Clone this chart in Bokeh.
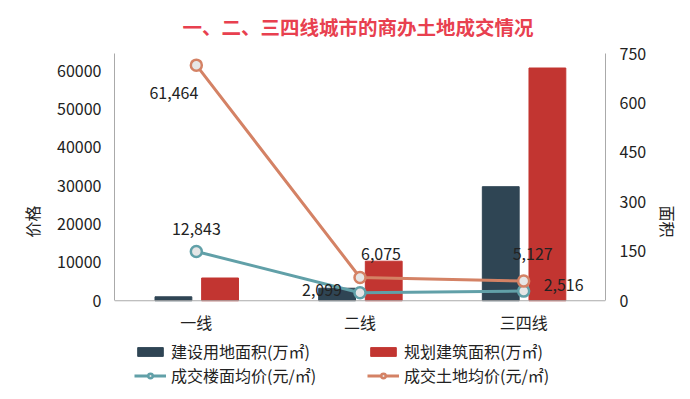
from bokeh.plotting import figure
from bokeh.models import (Range1d, LinearAxis, FixedTicker, ColumnDataSource,
                          Legend, LegendItem, FactorRange, Span)
from bokeh.transform import dodge
from bokeh.core.properties import value
from bokeh.embed import file_html
from bokeh.resources import INLINE

# ---- data ----
categories = ["一线", "二线", "三四线"]
land_area = [12, 38, 346]          # 建设用地面积(万㎡)
build_area = [69, 120, 706]        # 规划建筑面积(万㎡)
floor_price = [12843, 2099, 2516]  # 成交楼面均价(元/㎡)
land_price = [61464, 6075, 5127]   # 成交土地均价(元/㎡)
left_ticks = [0, 10000, 20000, 30000, 40000, 50000, 60000]
right_ticks = [0, 150, 300, 450, 600, 750]
PRICE_MAX = 64500
AREA_MAX = 750

# ---- styling / layout ----
FONT = "Noto Sans CJK SC"
C_DARK = "#2f4554"
C_RED = "#c23531"
C_TEAL = "#61a0a8"
C_ORANGE = "#d48265"
AXIS_C = "#aaaaaa"
TXT_C = "#222222"
BELOW_FRAC = 0.3589   # extra room under the zero line (for category labels + legend)

fp_align = ["center", "right", "left"]
fp_xoff = [0, -18, 20]
fp_yoff = [-23, -3, -6]
lp_align = ["right", "left", "center"]
lp_xoff = [2, 1, 9]
lp_yoff = [28, -23, -27]

src = ColumnDataSource(dict(
    cat=categories, land_area=land_area, build_area=build_area,
    floor_price=floor_price, land_price=land_price,
    fp_txt=[f"{v:,}" for v in floor_price],
    lp_txt=[f"{v:,}" for v in land_price],
    fp_align=fp_align, fp_xoff=fp_xoff, fp_yoff=fp_yoff,
    lp_align=lp_align, lp_xoff=lp_xoff, lp_yoff=lp_yoff,
))

p = figure(x_range=FactorRange(*categories),
           y_range=Range1d(-PRICE_MAX * BELOW_FRAC, PRICE_MAX),
           width=688, height=391, x_axis_location=None,
           output_backend="svg", toolbar_location=None,
           min_border_left=114, min_border_right=83, min_border_top=51,
           min_border_bottom=2)
p.extra_y_ranges = {"area": Range1d(-AREA_MAX * BELOW_FRAC, AREA_MAX)}
p.outline_line_color = None
p.grid.grid_line_color = None

p.title.text = "一、二、三四线城市的商办土地成交情况"
p.title.text_font = FONT
p.title.text_font_size = "19.5px"
p.title.text_color = "#e8404f"
p.title.text_font_style = "bold"
p.title.align = "left"
p.title.offset = 68
p.title.vertical_align = "top"
p.title.standoff = 22

# baseline (x axis line)
p.add_layout(Span(location=0, dimension="width", line_color=AXIS_C, line_width=1))

r_dark = p.vbar(x=dodge("cat", -0.14, range=p.x_range), top="land_area", width=0.225,
                source=src, color=C_DARK, y_range_name="area")
r_red = p.vbar(x=dodge("cat", 0.145, range=p.x_range), top="build_area", width=0.225,
               source=src, color=C_RED, y_range_name="area")

l_teal = p.line(x="cat", y="floor_price", source=src, color=C_TEAL, line_width=3)
s_teal = p.scatter(x="cat", y="floor_price", source=src, size=11, line_width=2.5,
                   line_color=C_TEAL, fill_color="#e6e6e6")
l_or = p.line(x="cat", y="land_price", source=src, color=C_ORANGE, line_width=3)
s_or = p.scatter(x="cat", y="land_price", source=src, size=11, line_width=2.5,
                 line_color=C_ORANGE, fill_color="#e6e6e6")

p.text(x="cat", y="floor_price", text="fp_txt", source=src, text_align="fp_align",
       x_offset="fp_xoff", y_offset="fp_yoff", text_baseline="middle",
       text_font=value(FONT), text_font_size="16px", text_color=TXT_C)
p.text(x="cat", y="land_price", text="lp_txt", source=src, text_align="lp_align",
       x_offset="lp_xoff", y_offset="lp_yoff", text_baseline="middle",
       text_font=value(FONT), text_font_size="16px", text_color=TXT_C)

# category (x tick) labels under the zero line
p.text(x="cat", y=0, text="cat", source=src, text_align="center",
       text_baseline="middle", y_offset=21,
       text_font=value(FONT), text_font_size="16px", text_color=TXT_C)

# axes
def style_axis(ax):
    ax.axis_line_color = AXIS_C
    ax.major_tick_line_color = None
    ax.minor_tick_line_color = None
    ax.major_label_text_font = FONT
    ax.major_label_text_font_size = "16px"
    ax.major_label_text_color = TXT_C
    ax.axis_label_text_font = FONT
    ax.axis_label_text_font_size = "16px"
    ax.axis_label_text_font_style = "normal"
    ax.axis_label_text_color = TXT_C

yl = p.yaxis[0]
yl.ticker = FixedTicker(ticks=left_ticks)
yl.bounds = (0, PRICE_MAX)
yl.axis_label = "价格"
yl.major_label_standoff = 7
yl.axis_label_standoff = 10
style_axis(yl)

yr = LinearAxis(y_range_name="area", ticker=FixedTicker(ticks=right_ticks),
                axis_label="面积", bounds=(0, AREA_MAX))
style_axis(yr)
yr.major_label_standoff = 8
yr.axis_label_standoff = 7
p.add_layout(yr, "right")

# legends: two columns placed in the space under the zero line
def mk_legend(items, x):
    lg = Legend(items=items, location=(x, 2), orientation="vertical",
                glyph_width=32, glyph_height=11, label_standoff=5,
                label_text_font=FONT, label_text_font_size="16px",
                label_text_color=TXT_C, label_height=23, spacing=0,
                padding=0, margin=0, border_line_color=None,
                background_fill_alpha=0)
    p.add_layout(lg, "center")

mk_legend([LegendItem(label="建设用地面积(万㎡)", renderers=[r_dark]),
           LegendItem(label="成交楼面均价(元/㎡)", renderers=[l_teal, s_teal])], 20)
mk_legend([LegendItem(label="规划建筑面积(万㎡)", renderers=[r_red]),
           LegendItem(label="成交土地均价(元/㎡)", renderers=[l_or, s_or])], 253)

open("out.html", "w").write(file_html(p, INLINE))
